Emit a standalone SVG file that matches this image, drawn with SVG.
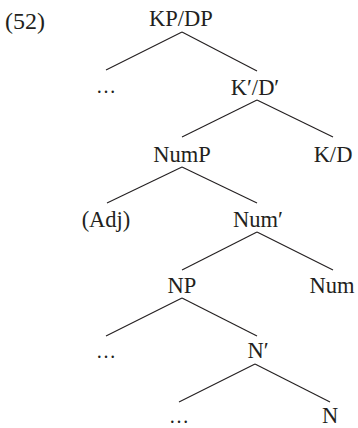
<svg xmlns="http://www.w3.org/2000/svg" width="358" height="428" viewBox="0 0 358 428">
<style>
text{font-family:"Liberation Serif","Times New Roman",serif;font-size:22.5px;fill:#231f20;text-anchor:middle}
.e{font-size:20px}
line{stroke:#231f20;stroke-width:1.1}
</style>
<rect width="358" height="428" fill="#fff"/>
<text x="5" y="29" style="text-anchor:start;font-size:24px">(52)</text>
<g id="kpdp"><text x="181" y="26">KP/DP</text></g>
<g id="dots1"><text class="e" x="106" y="93">…</text></g>
<g id="kd-bar"><text x="255" y="95">K′/D′</text></g>
<g id="nump"><text x="182" y="162">NumP</text></g>
<g id="kd"><text x="333" y="162">K/D</text></g>
<g id="adj"><text x="106" y="227">(Adj)</text></g>
<g id="num-bar"><text x="258" y="227">Num′</text></g>
<g id="np"><text x="182" y="293">NP</text></g>
<g id="num"><text x="332" y="293">Num</text></g>
<g id="dots2"><text class="e" x="106" y="358">…</text></g>
<g id="n-bar"><text x="258" y="358">N′</text></g>
<g id="dots3"><text class="e" x="179" y="423">…</text></g>
<g id="n"><text x="330" y="423">N</text></g>
<g id="connectors">
<line x1="182" y1="32" x2="106" y2="70"/>
<line x1="182" y1="32" x2="257" y2="71"/>
<line x1="257" y1="100" x2="182" y2="137"/>
<line x1="257" y1="100" x2="333" y2="137"/>
<line x1="182" y1="167" x2="107" y2="203"/>
<line x1="182" y1="167" x2="257" y2="203"/>
<line x1="257" y1="232" x2="182" y2="270"/>
<line x1="257" y1="232" x2="333" y2="270"/>
<line x1="182" y1="298" x2="106" y2="336"/>
<line x1="182" y1="298" x2="257" y2="336"/>
<line x1="255" y1="364" x2="179" y2="402"/>
<line x1="255" y1="364" x2="330" y2="402"/>
</g>
</svg>
